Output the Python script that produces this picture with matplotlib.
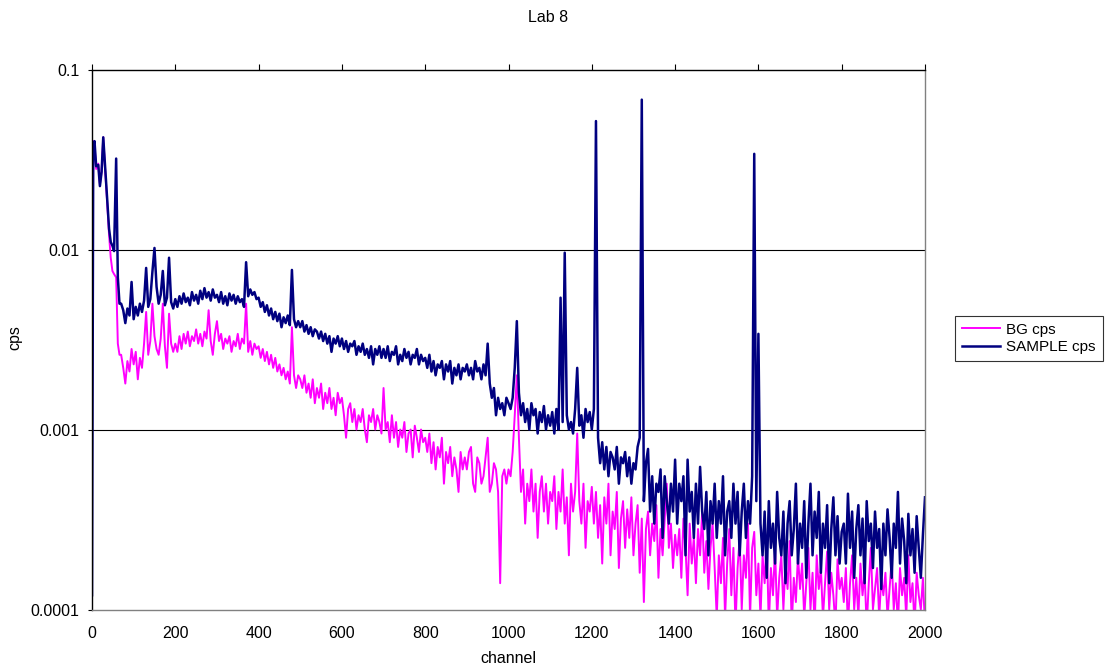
"""
Gamma spectrum, Lab 8: background vs. sample count rate per channel.
"""

import matplotlib.pyplot as plt
import numpy as np
from matplotlib.ticker import FixedLocator, FixedFormatter

plt.rcParams["font.family"] = ["Liberation Sans", "DejaVu Sans"]

# channel grid: fine near the low-energy edge, then 5 channel steps
head_ch = [0, 3, 6, 10, 15, 19, 23, 27, 31, 36, 41, 45, 49, 53, 58, 62, 66]
low_ch = np.arange(70, 1001, 5)
high_ch = np.arange(1005, 2001, 5)

# count rates in milli-cps
sample_head = [0.12, 38, 40, 29, 29.5, 22.5, 27, 42, 30, 20, 13, 11, 10.5, 9.8, 32, 7.0, 5.0]
bg_head = [1.3, 40, 38, 28, 30, 23, 27, 42, 29, 19, 12, 9.0, 7.6, 7.3, 7.0, 3.0, 2.6]

sample_low = [
    5.0, 4.6, 3.9, 4.7, 4.3, 6.6,
    4.1, 4.8, 4.3, 5.0, 4.5, 5.2, 7.9, 4.8, 5.3, 7.5, 10.2, 6.2, 5.0, 5.6, 7.6, 4.9, 5.4, 9.0, 5.1, 4.7,
    5.3, 4.8, 5.5, 5.0, 5.7, 5.1, 5.4, 4.9, 5.8, 5.2, 5.6, 5.0, 5.9, 5.3, 6.1, 5.4, 5.8, 5.2, 6.0, 5.4,
    5.6, 5.1, 5.8, 5.0, 5.5, 4.9, 5.7, 5.2, 5.6, 5.0, 5.5, 5.1, 5.3, 4.8, 8.5, 5.5, 6.0, 5.6, 5.8, 5.3,
    5.4, 4.8, 5.1, 4.5, 4.9, 4.3, 4.7, 4.1, 4.5, 4.0, 4.4, 3.7, 4.2, 3.9, 4.3, 3.8, 7.7, 4.1, 3.7, 4.0,
    3.7, 4.0, 3.5, 3.8, 3.4, 3.7, 3.3, 3.6, 3.5, 3.2, 3.5, 3.1, 3.4, 3.0, 3.3, 2.7, 3.2, 3.0, 3.3, 2.9,
    3.2, 2.8, 3.1, 2.7, 3.0, 2.9, 3.1, 2.6, 2.9, 2.7, 3.0, 2.6, 2.8, 2.5, 2.9, 2.3, 2.8, 2.6, 2.9, 2.5,
    2.8, 2.5, 2.9, 2.4, 2.7, 2.6, 2.9, 2.3, 2.6, 2.4, 2.8, 2.5, 2.7, 2.3, 2.6, 2.5, 2.8, 2.3, 2.6, 2.4,
    2.5, 2.2, 2.6, 2.1, 2.4, 2.0, 2.3, 2.2, 2.4, 1.9, 2.3, 2.1, 2.4, 1.8, 2.2, 2.0, 2.3, 1.9, 2.2, 2.1,
    2.3, 2.0, 2.2, 1.9, 2.4, 2.1, 2.2, 1.9, 2.3, 2.0, 3.0, 1.8, 1.5, 1.7, 1.2, 1.5, 1.3, 1.4, 1.2, 1.5,
    1.4,
]
bg_low = [
    2.6, 2.2, 1.8, 2.4, 2.1, 2.8,
    2.3, 2.7, 1.9, 2.5, 2.2, 3.0, 4.5, 2.6, 3.1, 5.0, 3.3, 2.8, 2.6, 3.2, 5.0, 2.9, 2.2, 4.4, 3.0, 2.7,
    3.0, 2.7, 3.3, 2.8, 3.4, 3.0, 3.5, 2.9, 3.3, 3.1, 3.6, 3.0, 3.4, 2.9, 3.5, 3.2, 4.6, 3.1, 2.6, 3.4,
    4.0, 3.1, 3.4, 2.8, 3.2, 3.0, 3.3, 2.7, 3.1, 2.9, 3.4, 2.8, 3.2, 3.0, 5.0, 2.7, 3.1, 2.6, 3.0, 2.8,
    2.9, 2.5, 2.8, 2.4, 2.7, 2.3, 2.6, 2.2, 2.5, 2.1, 2.3, 2.0, 2.2, 1.9, 2.1, 1.8, 3.7, 2.0, 1.7, 2.0,
    1.9, 1.7, 2.0, 1.6, 1.8, 1.5, 1.9, 1.4, 1.7, 1.5, 1.8, 1.3, 1.6, 1.4, 1.7, 1.3, 1.5, 1.2, 1.6, 1.4,
    1.5, 1.2, 0.9, 1.3, 1.4, 1.1, 1.3, 1.0, 1.2, 1.1, 1.3, 1.0, 0.85, 1.2, 1.1, 1.3, 1.0, 1.2, 1.1, 0.95,
    1.7, 1.0, 1.1, 0.85, 1.2, 0.9, 1.1, 0.8, 1.0, 0.9, 1.1, 0.75, 0.95, 1.0, 0.7, 1.05, 0.9, 0.75, 1.0, 0.85,
    0.9, 0.75, 0.95, 0.65, 0.85, 0.6, 0.8, 0.7, 0.9, 0.5, 0.75, 0.65, 0.8, 0.55, 0.7, 0.6, 0.45, 0.75, 0.6, 0.7,
    0.6, 0.75, 0.8, 0.5, 0.45, 0.7, 0.65, 0.5, 0.55, 0.7, 0.9, 0.45, 0.5, 0.65, 0.6, 0.45, 0.14, 0.55, 0.6, 0.5,
    0.6,
]

sample_high = [
    1.3, 1.5, 2.2, 4.0, 1.6, 1.2, 1.4, 1.1, 1.3, 1.0, 1.4, 1.2, 1.3, 0.95, 1.25, 1.1, 1.35, 1.0, 1.2, 1.05,
    1.25, 0.95, 1.3, 1.0, 5.4, 1.1, 9.6, 1.2, 1.0, 1.1, 0.95, 1.3, 2.2, 1.05, 1.2, 0.9, 1.3, 1.1, 1.25, 1.0,
    1.3, 51.7, 0.9, 0.65, 0.85, 0.6, 0.8, 0.55, 0.75, 0.7, 0.6, 0.8, 0.5, 0.7, 0.65, 0.75, 0.55, 0.7, 0.5, 0.65,
    0.6, 0.8, 0.9, 68, 0.4, 0.65, 0.78, 0.35, 0.55, 0.3, 0.5, 0.45, 0.6, 0.25, 0.55, 0.4, 0.3, 0.5, 0.35, 0.68,
    0.3, 0.5, 0.4, 0.55, 0.2, 0.68, 0.35, 0.45, 0.25, 0.5, 0.3, 0.62, 0.35, 0.28, 0.45, 0.2, 0.4, 0.3, 0.5, 0.25,
    0.4, 0.3, 0.55, 0.2, 0.35, 0.4, 0.25, 0.5, 0.3, 0.45, 0.2, 0.35, 0.5, 0.25, 0.4, 0.3, 0.55, 34, 0.4, 3.4,
    0.3, 0.2, 0.35, 0.15, 0.4, 0.22, 0.3, 0.18, 0.45, 0.25, 0.2, 0.35, 0.14, 0.3, 0.4, 0.2, 0.28, 0.5, 0.18, 0.3,
    0.22, 0.4, 0.15, 0.3, 0.5, 0.2, 0.35, 0.25, 0.45, 0.16, 0.3, 0.22, 0.38, 0.14, 0.28, 0.42, 0.2, 0.33, 0.18, 0.27,
    0.3, 0.18, 0.44, 0.22, 0.35, 0.15, 0.28, 0.38, 0.2, 0.32, 0.14, 0.4, 0.24, 0.3, 0.17, 0.35, 0.22, 0.28, 0.13, 0.3,
    0.2, 0.36, 0.25, 0.15, 0.3, 0.22, 0.45, 0.18, 0.32, 0.24, 0.14, 0.34, 0.2, 0.28, 0.16, 0.33, 0.22, 0.15, 0.26, 0.42,
]
bg_high = [
    0.55, 0.75, 1.2, 2.0, 0.9, 0.45, 0.6, 0.3, 0.5, 0.4, 0.6, 0.35, 0.5, 0.25, 0.45, 0.55, 0.35, 0.5, 0.3, 0.45,
    0.4, 0.55, 0.28, 0.45, 0.35, 0.6, 0.3, 0.42, 0.2, 0.5, 0.35, 0.45, 0.95, 0.4, 0.3, 0.5, 0.22, 0.4, 0.35, 0.48,
    0.3, 0.45, 0.25, 0.38, 0.18, 0.42, 0.3, 0.5, 0.2, 0.35, 0.28, 0.45, 0.17, 0.32, 0.4, 0.22, 0.36, 0.25, 0.42, 0.2,
    0.3, 0.38, 0.16, 0.32, 0.11, 0.28, 0.35, 0.2, 0.3, 0.24, 0.38, 0.15, 0.28, 0.2, 0.32, 0.5, 0.22, 0.3, 0.17, 0.26,
    0.2, 0.28, 0.15, 0.32, 0.22, 0.12, 0.3, 0.18, 0.25, 0.14, 0.28, 0.2, 0.35, 0.16, 0.24, 0.13, 0.22, 0.3, 0.17, 0.09,
    0.2, 0.14, 0.25, 0.09, 0.18, 0.28, 0.12, 0.22, 0.08, 0.17, 0.25, 0.1, 0.2, 0.15, 0.3, 0.09, 0.22, 0.27, 0.12, 0.18,
    0.09, 0.2, 0.14, 0.25, 0.08, 0.17, 0.12, 0.22, 0.09, 0.15, 0.2, 0.1, 0.18, 0.13, 0.24, 0.08, 0.15, 0.11, 0.2, 0.13,
    0.18, 0.09, 0.14, 0.22, 0.1, 0.16, 0.08, 0.2, 0.13, 0.17, 0.09, 0.14, 0.21, 0.1, 0.16, 0.12, 0.08, 0.19, 0.13, 0.15,
    0.11, 0.17, 0.08, 0.14, 0.2, 0.1, 0.15, 0.09, 0.18, 0.12, 0.16, 0.08, 0.14, 0.22, 0.1, 0.13, 0.17, 0.09, 0.15, 0.12,
    0.16, 0.09, 0.13, 0.19, 0.1, 0.14, 0.08, 0.17, 0.12, 0.15, 0.09, 0.2, 0.11, 0.14, 0.08, 0.16, 0.12, 0.1, 0.15, 0.08,
]

x_ticks = list(range(0, 2001, 200))
y_ticks = [0.0001, 0.001, 0.01, 0.1]
y_tick_labels = ["0.0001", "0.001", "0.01", "0.1"]

channel = np.concatenate([head_ch, low_ch, high_ch])
sample_cps = np.concatenate([sample_head, sample_low, sample_high]) * 1e-3
bg_cps = np.concatenate([bg_head, bg_low, bg_high]) * 1e-3
assert len(channel) == len(sample_cps) == len(bg_cps)

fig = plt.figure(figsize=(11.1, 6.69), dpi=100)
ax = fig.add_axes([92 / 1110, 1 - 609.5 / 669, 833 / 1110, 540 / 669])

ax.plot(channel, bg_cps, color="#FF00FF", lw=1.4, label="BG cps")
ax.plot(channel, sample_cps, color="#000080", lw=1.8, label="SAMPLE cps")

ax.set_yscale("log")
ax.set_xlim(0, 2000)
ax.set_ylim(0.0001, 0.1)

for v in (0.001, 0.01):
    ax.axhline(v, color="black", lw=0.8, zorder=0)

ax.yaxis.set_major_locator(FixedLocator(y_ticks))
ax.yaxis.set_major_formatter(FixedFormatter(y_tick_labels))
ax.yaxis.set_minor_locator(FixedLocator([]))
ax.set_xticks(x_ticks)

# category axis sits on top, labels stay at the bottom
ax.tick_params(axis="x", top=True, bottom=False, labeltop=False, labelbottom=True,
               direction="out", length=4, width=0.8, labelsize=11.5, pad=8)
ax.tick_params(axis="y", direction="out", length=3, width=0.8, labelsize=11.5, pad=6)

ax.spines["top"].set_color("black")
ax.spines["left"].set_color("black")
ax.spines["bottom"].set_color("#808080")
ax.spines["right"].set_color("#808080")
for s in ax.spines.values():
    s.set_linewidth(1.0)

ax.set_xlabel("channel", fontsize=11.5, labelpad=7)
fig.text(15 / 1110, 1 - 338 / 669, "cps", rotation=90, ha="center", va="center", fontsize=11.5)
fig.text(548 / 1110, 1 - 18 / 669, "Lab 8", ha="center", va="center", fontsize=11.5)

leg = fig.legend(loc="center left", bbox_to_anchor=(955 / 1110, 1 - 338.5 / 669),
                 frameon=True, fancybox=False, fontsize=11, handlelength=2.5,
                 borderpad=0.45, labelspacing=0.25, handletextpad=0.4, borderaxespad=0)
leg.get_frame().set_edgecolor("black")
leg.get_frame().set_linewidth(0.8)

plt.savefig("out.png", dpi=100)
plt.close()
